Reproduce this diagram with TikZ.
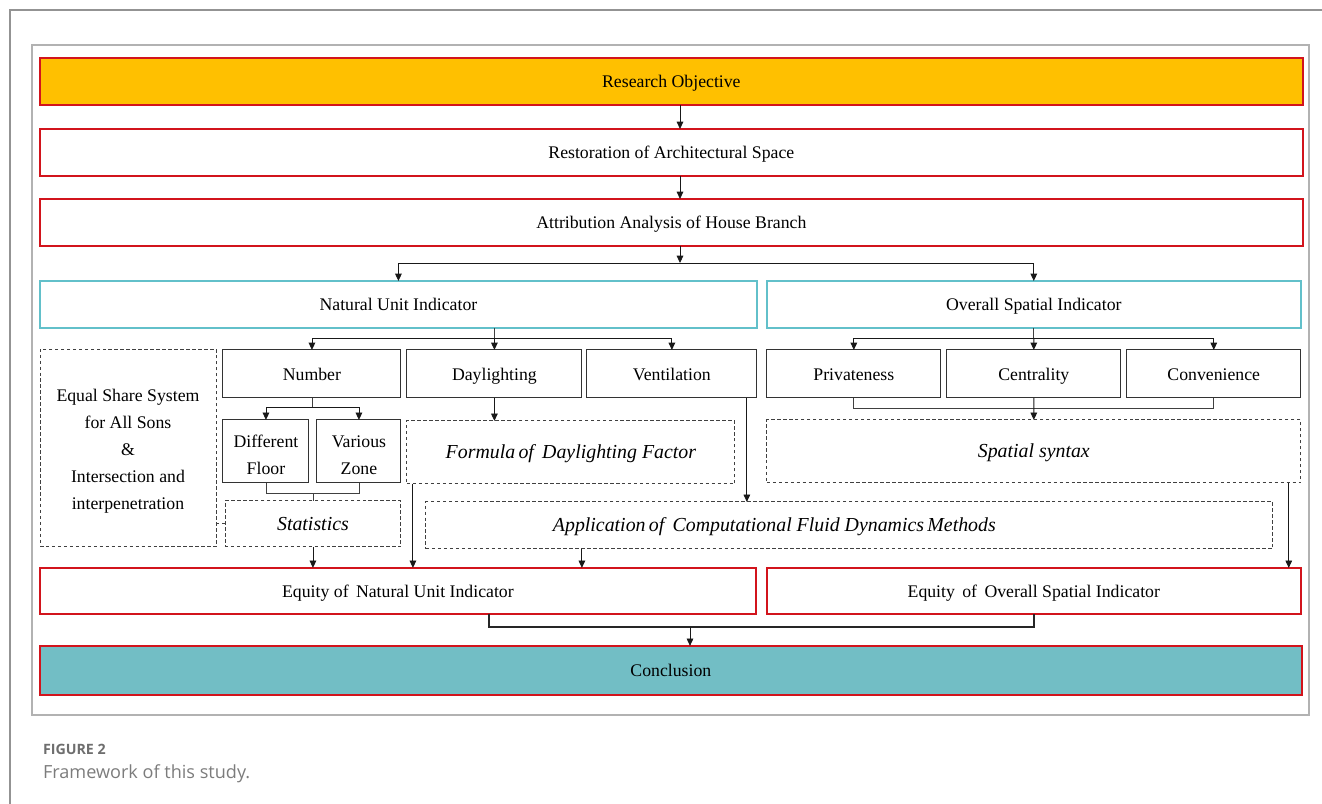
\documentclass[tikz,border=0pt]{standalone}
\usepackage{fontspec}
\setmainfont{Liberation Serif}
\newfontfamily\capfont{Open Sans}
\usetikzlibrary{arrows.meta,positioning}

\definecolor{objyellow}{HTML}{FFC000}
\definecolor{endteal}{HTML}{72BEC5}
\definecolor{barred}{HTML}{D2141C}
\definecolor{barcyan}{HTML}{62C0CA}
\definecolor{capgray}{HTML}{6E6E6E}

\begin{document}
\begin{tikzpicture}[
			x=0.02cm, y=-0.02cm,
			node distance=0.48cm and 0.12cm,
			every node/.style={outer sep=0pt},
			bar/.style={
				rectangle,
				minimum width=25.26cm,
				minimum height=0.94cm,
				inner sep=0pt,
				text height=0.74em,
				text depth=0pt,
				align=center,
				font=\fontsize{10.1}{12.6}\selectfont
			},
			redbar/.style={bar, draw=barred, line width=1.1pt},
			cyanbar/.style={bar, draw=barcyan, line width=1pt},
			item/.style={
				rectangle,
				draw=black!80,
				line width=0.6pt,
				minimum width=3.48cm,
				minimum height=0.96cm,
				inner sep=0pt,
				text height=0.74em,
				text depth=0pt,
				align=center,
				font=\fontsize{10.1}{15.3}\selectfont
			},
			twoline/.style={text height=, text depth=},
			method/.style={
				item,
				draw=black!75,
				line width=0.5pt,
				dash pattern=on 2pt off 1.4pt,
				minimum height=1.26cm,
				font=\fontsize{11.3}{14}\selectfont\itshape
			},
			arrow/.style={
				-{Triangle[length=4.2pt,width=3.8pt]},
				line width=0.5pt,
				draw=black!90
			},
			link/.style={line width=0.5pt, draw=black!75}
			]
			\useasboundingbox (0,0) rectangle (1322,804);
			% page edge and figure frame
			\draw[gray!85, line width=0.9pt] (1322,10) -- (10,10) -- (10,804);
			\draw[gray!60, line width=0.6pt] (32,45) rectangle (1309,715);
			
			% main spine
			\node[redbar, fill=objyellow, anchor=north west] (objective) at (40,58) {Research Objective};
			\node[redbar, below=of objective] (restore) {Restoration of Architectural Space};
			\node[redbar, below=0.46cm of restore] (attrib) {Attribution Analysis of House Branch};
			
			% two indicators
			\node[cyanbar, minimum width=14.34cm, below right=0.7cm and 0cm of attrib.south west] (natural) {Natural Unit Indicator};
			\node[cyanbar, minimum width=10.68cm, right=0.2cm of natural] (overall) {Overall Spatial Indicator};
			
			% sub indicators
			\node[item, minimum width=3.56cm, below right=0.44cm and 3.66cm of natural.south west] (number) {Number};
			\node[item, minimum width=3.5cm, right=of number] (daylight) {Daylighting};
			\node[item, minimum width=3.4cm, right=0.1cm of daylight] (vent) {Ventilation};
			\node[item, right=0.2cm of vent] (priv) {Privateness};
			\node[item, right=of priv] (central) {Centrality};
			\node[item, right=of central] (conv) {Convenience};
			
			% number branch (first line strut lowers the text block a little)
			\node[method, font=\fontsize{10.1}{15.3}\selectfont, minimum width=3.52cm, minimum height=3.96cm,
				below right=0.42cm and 0cm of natural.south west, twoline] (share)
				{\rule{0pt}{1.05em}Equal Share System\\for All Sons\\\&\\Intersection and\\interpenetration};
			\node[item, minimum width=1.72cm, minimum height=1.26cm, below right=0.44cm and 0cm of number.south west, twoline] (floor) {\rule{0pt}{1.05em}Different\\Floor};
			\node[item, minimum width=1.68cm, minimum height=1.26cm, below left=0.44cm and 0cm of number.south east, twoline] (zone) {\rule{0pt}{1.05em}Various\\Zone};
			\node[method, minimum width=3.52cm, minimum height=0.92cm, below left=0.36cm and 0cm of zone.south east] (stats) {Statistics};
			
			% methods
			\node[method, minimum width=6.56cm, below right=0.46cm and 0cm of daylight.south west] (formula) {Formula\,of\, Daylighting Factor};
			\node[method, minimum width=10.68cm, below right=0.44cm and 0cm of priv.south west] (syntax) {Spatial syntax};
			\node[method, minimum width=16.94cm, minimum height=0.94cm, below right=0.36cm and 0.38cm of formula.south west] (cfd)
				{Application\,of\, Computational Fluid Dynamics\,Methods\hspace*{3cm}};
			
			% results
			\node[redbar, minimum width=14.32cm, minimum height=0.92cm, below right=0.42cm and 0cm of share.south west] (eqnat) {Equity of\, Natural Unit Indicator};
			\node[redbar, minimum width=10.68cm, minimum height=0.92cm, right=0.22cm of eqnat] (eqover) {Equity\, of\, Overall Spatial Indicator};
			\node[redbar, fill=endteal, minimum width=25.24cm, minimum height=0.98cm, below right=0.64cm and 0cm of eqnat.south west] (concl) {Conclusion};
			
			% caption
			\node[anchor=base west, inner sep=0pt, text=capgray, font=\capfont\bfseries\fontsize{8.1}{10}\selectfont] (figlabel) at (43,754) {FIGURE 2};
			\node[anchor=base west, inner sep=0pt, text=capgray!90, font=\capfont\fontsize{10.3}{13}\selectfont] (figtitle) at (43,778) {Framework of this study.};
			
			% arrows
			\coordinate (spine) at (680,0);
			\coordinate (split1) at (680,263);
			\draw[arrow] (objective.south -| spine) -- (restore.north -| spine);
			\draw[arrow] (restore.south -| spine) -- (attrib.north -| spine);
			\draw[arrow] (attrib.south -| spine) -- (split1);
			\draw[arrow] (split1) -| (natural.north);
			\draw[arrow] (split1) -| (overall.north);
			
			\draw[link] (natural.south -| daylight.north) -- ++(0,10) coordinate (split2);
			\draw[arrow] (split2) -| (number.north);
			\draw[arrow] (split2) -- (daylight.north);
			\draw[arrow] (split2) -| (vent.north);
			\draw[link] (overall.south) -- ++(0,10) coordinate (split3);
			\draw[arrow] (split3) -| (priv.north);
			\draw[arrow] (split3) -- (central.north);
			\draw[arrow] (split3) -| (conv.north);
			
			\draw[link] (number.south) -- ++(0,10) coordinate (split4);
			\draw[arrow] (split4) -| (floor.north);
			\draw[arrow] (split4) -| (zone.north);
			\draw[link] (floor.south) -- ++(0,11) coordinate (join1) -| (zone.south);
			\draw[link] (join1 -| stats.north) -- (stats.north);
			\draw[link, dash pattern=on 2pt off 1.4pt] (share.east |- stats.west) -- (stats.west);
			\draw[arrow] (stats.south) -- (stats.south |- eqnat.north);
			
			\draw[arrow] (daylight.south) -- (daylight.south |- formula.north);
			\coordinate (fdrop) at ([xshift=0.12cm]formula.south west);
			\draw[arrow] (fdrop) -- (fdrop |- eqnat.north);
			\coordinate (vdrop) at ([xshift=-0.2cm]vent.south east);
			\draw[arrow] (vdrop) -- (vdrop |- cfd.north);
			\draw[arrow] (cfd.south -| daylight.east) -- (eqnat.north -| daylight.east);
			
			\draw[link] (priv.south) -- ++(0,11) coordinate (join2) -| (conv.south);
			\draw[arrow] (central.south) -- (syntax.north);
			\coordinate (sdrop) at ([xshift=-0.24cm]syntax.south east);
			\draw[arrow] (sdrop) -- (sdrop |- eqover.north);
			
			\coordinate (merge) at (690,627);
			\draw[link, line width=0.9pt, draw=black!85] ([xshift=1.82cm]eqnat.south) |- (merge) -| (eqover.south);
			\draw[arrow] (merge) -- (merge |- concl.north);
		\end{tikzpicture}
\end{document}
